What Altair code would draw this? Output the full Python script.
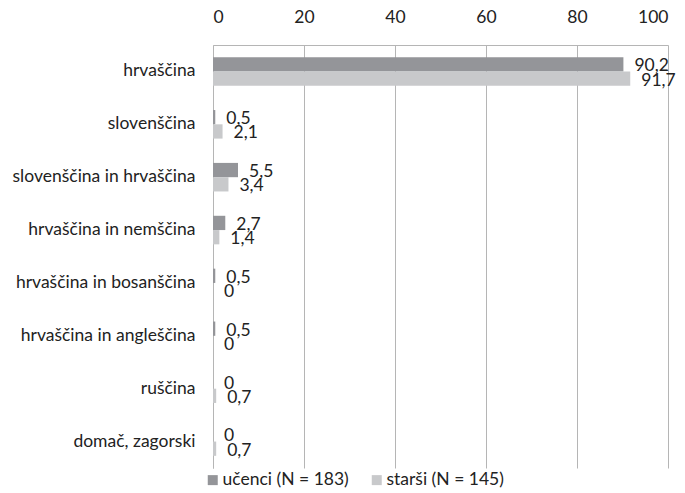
import altair as alt
import pandas as pd

categories = ["hrvaščina", "slovenščina", "slovenščina in hrvaščina", "hrvaščina in nemščina",
              "hrvaščina in bosanščina", "hrvaščina in angleščina", "ruščina", "domač, zagorski"]
series = ["učenci (N = 183)", "starši (N = 145)"]
ucenci = [90.2, 0.5, 5.5, 2.7, 0.5, 0.5, 0, 0]
starsi = [91.7, 2.1, 3.4, 1.4, 0, 0, 0.7, 0.7]
x_ticks = [0, 20, 40, 60, 80, 100]

rows = []
for c, u, s in zip(categories, ucenci, starsi):
    rows.append({"kat": c, "skupina": series[0], "v": u, "lab": f"{u:g}".replace(".", ",")})
    rows.append({"kat": c, "skupina": series[1], "v": s, "lab": f"{s:g}".replace(".", ",")})
df = pd.DataFrame(rows)

FONT = "Lato"
FS = 17.5
colors = ["#949599", "#c8c9cb"]

base = alt.Chart(df).encode(
    y=alt.Y("kat:N", sort=categories, title=None,
            scale=alt.Scale(paddingInner=0.46, paddingOuter=0.23),
            axis=alt.Axis(ticks=False, labelPadding=18, labelFontSize=FS, labelFont=FONT,
                          labelColor="#222222", domainColor="#b5b5b5", labelLimit=300)),
    yOffset=alt.YOffset("skupina:N", sort=series, scale=alt.Scale(paddingInner=0, paddingOuter=0)),
)

bars = base.mark_bar().encode(
    x=alt.X("v:Q", scale=alt.Scale(domain=[0, 100]), title=None,
            axis=alt.Axis(orient="top", values=x_ticks, ticks=False, labelPadding=19,
                          labelFontSize=FS, labelFont=FONT, labelColor="#222222",
                          domainColor="#b5b5b5", grid=True, gridColor="#b5b5b5")),
    color=alt.Color("skupina:N", sort=series, title=None,
                    scale=alt.Scale(domain=series, range=colors),
                    legend=alt.Legend(orient="none", legendX=-9, legendY=426, direction="horizontal",
                                      symbolType="square", symbolSize=100, symbolStrokeWidth=0,
                                      labelFontSize=FS, labelFont=FONT, labelColor="#222222",
                                      columnPadding=19, labelOffset=1)),
)

labels = base.mark_text(align="left", baseline="middle", dx=11, dy=2, fontSize=FS,
                        font=FONT, color="#222222").encode(
    x=alt.X("v:Q"),
    text="lab:N",
)

chart = (bars + labels).properties(
    width=455, height=423,
    padding={"left": 213, "top": 45, "right": 17, "bottom": 25},
    autosize=alt.AutoSizeParams(type="none"),
).configure_view(stroke=None)

chart.save("out.html", embed_options={"renderer": "svg", "actions": False})
